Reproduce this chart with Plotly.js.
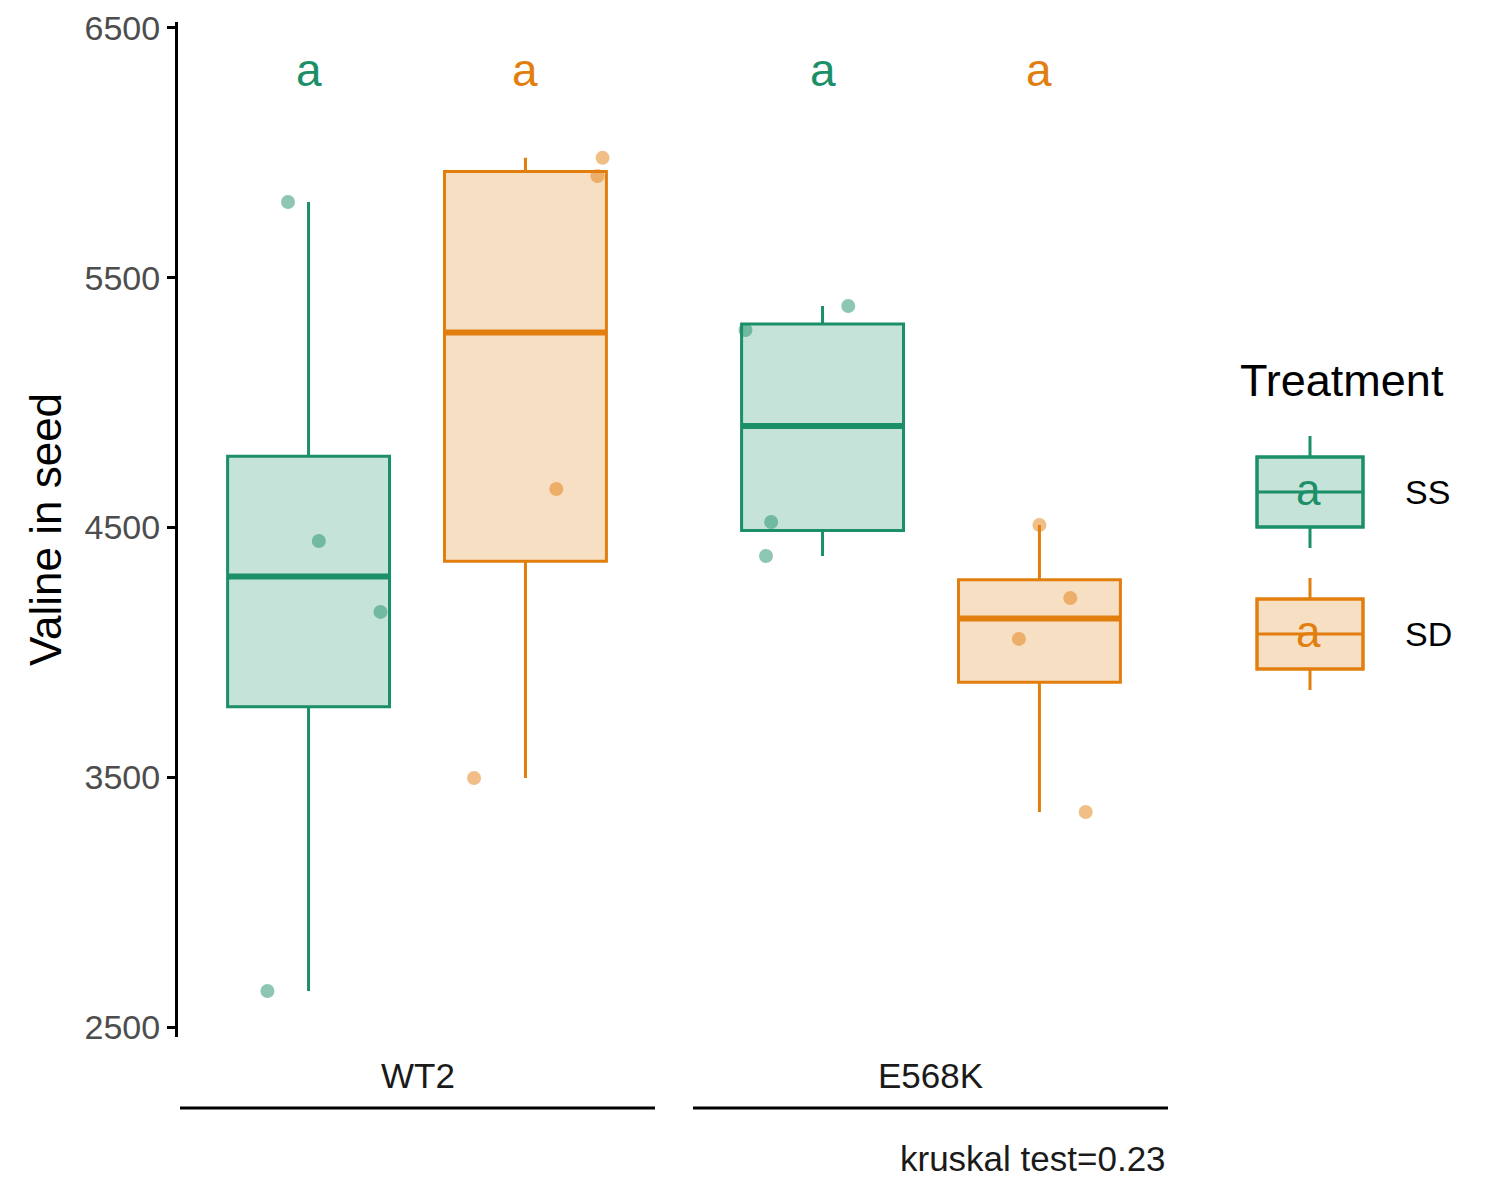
<!DOCTYPE html>
<html>
<head>
<script src="https://cdn.plot.ly/plotly-3.0.1.min.js"></script>
<style>body{margin:0;background:#fff}</style>
</head>
<body>
<div id="chart" style="width:1500px;height:1200px"></div>
<script>
var genotypes = ["WT2", "E568K"];
var treatments = ["SS", "SD"];
var colors = {SS: "#1B8F68", SD: "#E17E0E"};
var fills = {SS: "rgba(27,143,104,0.25)", SD: "rgba(225,126,14,0.25)"};

// raw observations per genotype/treatment
var wt2SS = [2644, 4162, 4446, 5803];
var wt2SD = [3497, 4654, 5907, 5980];
var e568kSS = [4386, 4522, 5291, 5387];
var e568kSD = [3361, 4054, 4218, 4510];
// horizontal jitter for points (in x units)
var wt2SSJit = [-0.08, 0.14, 0.02, -0.04];
var wt2SDJit = [-0.1, 0.06, 0.14, 0.15];
var e568kSSJit = [-0.11, -0.1, -0.15, 0.05];
var e568kSDJit = [0.09, -0.04, 0.06, 0.0];
var letters = ["a", "a", "a", "a"];

var groups = [
  {g: 0, t: "SS", y: wt2SS, j: wt2SSJit},
  {g: 0, t: "SD", y: wt2SD, j: wt2SDJit},
  {g: 1, t: "SS", y: e568kSS, j: e568kSSJit},
  {g: 1, t: "SD", y: e568kSD, j: e568kSDJit}
];

function quantile(arr, p) {
  var s = arr.slice().sort(function (a, b) { return a - b; });
  var h = (s.length - 1) * p, lo = Math.floor(h);
  return s[lo] + (h - lo) * ((s[lo + 1] !== undefined ? s[lo + 1] : s[lo]) - s[lo]);
}

var off = {SS: -0.211, SD: 0.211};
var data = [];
var annotations = [];
var shapes = [];

groups.forEach(function (d, i) {
  var x = d.g + 1 + off[d.t];
  data.push({
    type: "box", x: [x],
    q1: [quantile(d.y, 0.25)], median: [quantile(d.y, 0.5)], q3: [quantile(d.y, 0.75)],
    lowerfence: [Math.min.apply(null, d.y)], upperfence: [Math.max.apply(null, d.y)],
    width: 0.315, whiskerwidth: 0,
    line: {color: colors[d.t], width: 3}, fillcolor: fills[d.t],
    showlegend: false, hoverinfo: "skip"
  });
  data.push({
    type: "scatter", mode: "markers",
    x: d.y.map(function (v, k) { return x + d.j[k]; }), y: d.y,
    marker: {color: colors[d.t], opacity: 0.5, size: 14},
    showlegend: false
  });
  annotations.push({
    x: x, y: 6330, xref: "x", yref: "y", text: letters[i], showarrow: false,
    xanchor: "center", yanchor: "middle",
    font: {size: 46, color: colors[d.t]}
  });
});

// median line drawn thicker like ggplot
groups.forEach(function (d) {
  var x = d.g + 1 + off[d.t];
  var m = quantile(d.y, 0.5);
  shapes.push({type: "line", xref: "x", yref: "y", x0: x - 0.1575, x1: x + 0.1575, y0: m, y1: m,
    line: {color: colors[d.t], width: 6}});
});

function px(v) { return (v - 178) / 992; }
function py(v) { return (1037 - v) / 1015; }

// genotype labels with bars
genotypes.forEach(function (g, i) {
  var x0 = i === 0 ? 180 : 693, x1 = i === 0 ? 655 : 1168;
  shapes.push({type: "line", xref: "paper", yref: "paper", x0: px(x0), x1: px(x1), y0: py(1108), y1: py(1108),
    line: {color: "black", width: 3}});
  annotations.push({xref: "paper", yref: "paper", x: px((x0 + x1) / 2), y: py(1075), text: g,
    xanchor: "center", yanchor: "middle",
    showarrow: false, font: {size: 35, color: "#1a1a1a"}});
});
annotations.push({xref: "paper", yref: "paper", x: px(1168), y: py(1158), xanchor: "right", yanchor: "middle",
  text: "kruskal test=0.23", showarrow: false, font: {size: 35, color: "#1a1a1a"}});

// legend
annotations.push({xref: "paper", yref: "paper", x: px(1238), y: py(380), xanchor: "left", yanchor: "middle",
  text: "Treatment", showarrow: false, font: {size: 45, color: "black"}});
var keyY = {SS: 492, SD: 634};
treatments.forEach(function (t) {
  var c = keyY[t];
  shapes.push({type: "line", xref: "paper", yref: "paper", x0: px(1310), x1: px(1310), y0: py(c - 56), y1: py(c + 56),
    line: {color: colors[t], width: 3}});
  shapes.push({type: "rect", xref: "paper", yref: "paper", x0: px(1257), x1: px(1363), y0: py(c - 35), y1: py(c + 35),
    line: {color: colors[t], width: 3}, fillcolor: "white"});
  shapes.push({type: "rect", xref: "paper", yref: "paper", x0: px(1257), x1: px(1363), y0: py(c - 35), y1: py(c + 35),
    line: {color: colors[t], width: 3}, fillcolor: fills[t]});
  shapes.push({type: "line", xref: "paper", yref: "paper", x0: px(1257), x1: px(1363), y0: py(c), y1: py(c),
    line: {color: colors[t], width: 3}});
  annotations.push({xref: "paper", yref: "paper", x: px(1308), y: py(c - 2), text: "a", showarrow: false,
    xanchor: "center", yanchor: "middle", font: {size: 44, color: colors[t]}});
  annotations.push({xref: "paper", yref: "paper", x: px(1403), y: py(c), xanchor: "left", yanchor: "middle", text: t,
    showarrow: false, font: {size: 34, color: "black"}});
});

var layout = {
  width: 1500, height: 1200,
  margin: {l: 178, r: 330, t: 22, b: 163},
  paper_bgcolor: "white", plot_bgcolor: "white",
  font: {family: "Liberation Sans, Arial, sans-serif"},
  xaxis: {range: [0.535, 2.465], showticklabels: false, showgrid: false, zeroline: false, ticks: ""},
  yaxis: {
    range: [2460, 6524], tickvals: [2500, 3500, 4500, 5500, 6500],
    ticks: "outside", ticklen: 8, tickwidth: 3, tickcolor: "black",
    showline: true, linecolor: "black", linewidth: 3, showgrid: false, zeroline: false,
    tickfont: {size: 34, color: "#4d4d4d"},
    title: {text: "Valine in seed", font: {size: 44, color: "black"}, standoff: 10}
  },
  shapes: shapes, annotations: annotations
};

Plotly.newPlot("chart", data, layout, {displayModeBar: false});
</script>
</body>
</html>
